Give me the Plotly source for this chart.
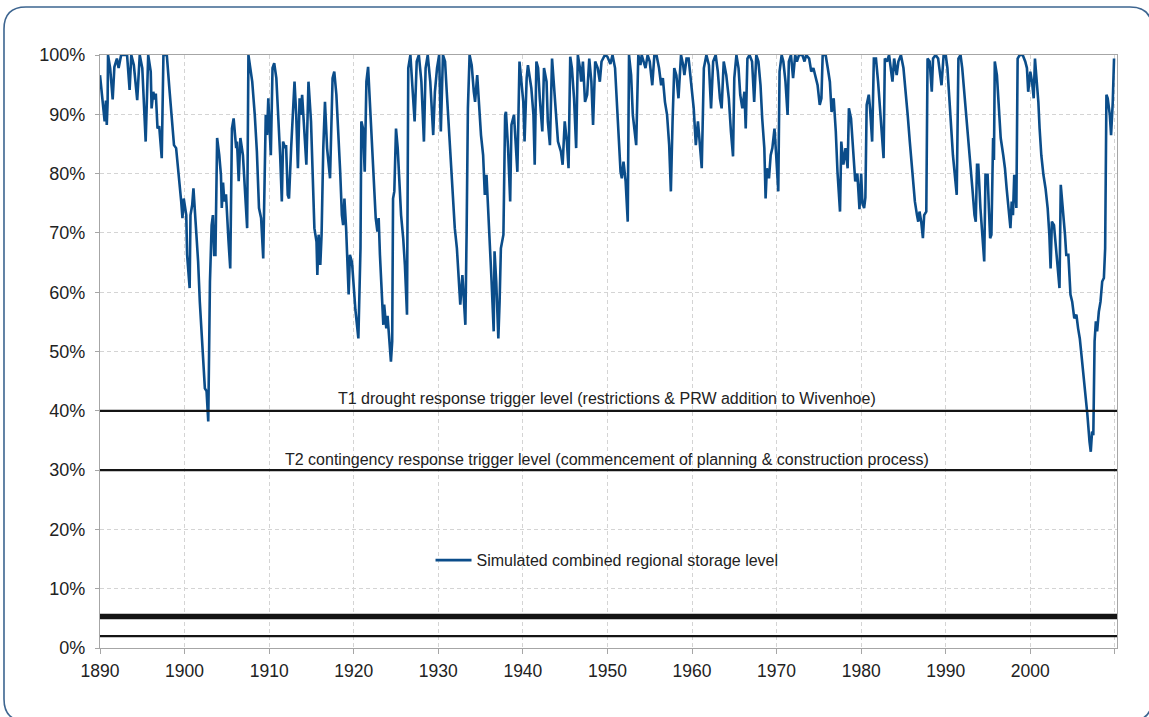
import plotly.graph_objects as go

# ---------------- data ----------------
year = [
    1890.0, 1890.2, 1890.4, 1890.55, 1890.7, 1890.8, 1890.9, 1890.95, 1891.2, 1891.45, 1891.5, 1891.7,
    1892.0, 1892.2, 1892.5, 1892.9, 1893.2, 1893.5, 1893.7, 1894.0, 1894.4, 1894.7, 1895.0, 1895.4,
    1895.7, 1896.0, 1896.1, 1896.3, 1896.5, 1896.6, 1896.8, 1897.0, 1897.3, 1897.5, 1897.9, 1898.2,
    1898.5, 1898.75, 1899.0, 1899.2, 1899.4, 1899.6, 1899.75, 1899.9, 1900.2, 1900.3, 1900.6, 1900.7,
    1900.9, 1901.05, 1901.3, 1901.6, 1901.8, 1902.1, 1902.4, 1902.6, 1902.8, 1903.0, 1903.2, 1903.35,
    1903.5, 1903.65, 1903.85, 1904.1, 1904.3, 1904.4, 1904.55, 1904.7, 1904.9, 1905.2, 1905.4, 1905.6,
    1905.8, 1906.1, 1906.2, 1906.4, 1906.6, 1906.9, 1907.15, 1907.4, 1907.55, 1907.8, 1908.0, 1908.3,
    1908.55, 1908.8, 1909.05, 1909.3, 1909.45, 1909.6, 1909.75, 1909.9, 1910.05, 1910.2, 1910.4, 1910.6,
    1910.85, 1911.1, 1911.3, 1911.5, 1911.65, 1911.9, 1912.0, 1912.2, 1912.35, 1912.6, 1912.8, 1913.0,
    1913.2, 1913.4, 1913.6, 1913.75, 1913.9, 1914.2, 1914.4, 1914.65, 1914.95, 1915.35, 1915.6, 1915.7,
    1915.85, 1916.05, 1916.2, 1916.4, 1916.6, 1916.85, 1917.0, 1917.2, 1917.5, 1917.7, 1917.95, 1918.2,
    1918.4, 1918.6, 1918.75, 1918.9, 1919.1, 1919.4, 1919.55, 1919.8, 1920.0,
    1920.2, 1920.55, 1920.8, 1920.9, 1921.1, 1921.3, 1921.5, 1921.7, 1921.9, 1922.1, 1922.4, 1922.6,
    1922.8, 1922.95, 1923.1, 1923.3, 1923.5, 1923.6, 1923.85, 1924.0, 1924.2, 1924.4, 1924.55, 1924.65,
    1924.8, 1925.0, 1925.2, 1925.4, 1925.6, 1925.85, 1926.05, 1926.3, 1926.45, 1926.7, 1926.9, 1927.2,
    1927.45, 1927.7, 1928.0, 1928.3, 1928.5, 1928.75, 1929.05, 1929.2, 1929.4, 1929.6, 1929.85, 1930.1,
    1930.3, 1930.55, 1930.8, 1931.0, 1931.25, 1931.5, 1931.7, 1931.95, 1932.2, 1932.35, 1932.6, 1932.85,
    1933.0, 1933.2, 1933.35, 1933.5, 1933.7, 1933.95, 1934.2, 1934.35, 1934.6, 1934.8, 1935.05, 1935.3,
    1935.5, 1935.7, 1935.9, 1936.15, 1936.3, 1936.55, 1936.65, 1936.85, 1937.1, 1937.25, 1937.4, 1937.7,
    1937.9, 1938.0, 1938.25, 1938.5, 1938.65, 1938.95, 1939.2, 1939.35, 1939.6, 1939.85, 1940.05, 1940.2,
    1940.45, 1940.6, 1940.85, 1941.0, 1941.25, 1941.4, 1941.6, 1941.8, 1942.0, 1942.3, 1942.5, 1942.8,
    1942.95, 1943.2, 1943.45, 1943.7, 1943.95, 1944.15, 1944.5, 1944.7, 1944.95, 1945.2, 1945.4, 1945.6,
    1945.8, 1946.05, 1946.3, 1946.5, 1946.75, 1946.9, 1947.1, 1947.35, 1947.6, 1947.85, 1948.1, 1948.3,
    1948.55, 1948.85, 1949.1, 1949.3, 1949.7, 1950.0,
    1950.35, 1950.6, 1950.9, 1951.1, 1951.4, 1951.55, 1951.7, 1951.9, 1952.15, 1952.4, 1952.55, 1952.8,
    1953.0, 1953.4, 1953.65, 1953.9, 1954.05, 1954.3, 1954.5, 1954.75, 1955.0, 1955.3, 1955.55, 1955.8,
    1956.1, 1956.35, 1956.55, 1956.8, 1957.05, 1957.3, 1957.5, 1957.7, 1957.9, 1958.15, 1958.4, 1958.7,
    1958.95, 1959.1, 1959.35, 1959.6, 1959.9, 1960.2, 1960.45, 1960.7, 1960.9, 1961.15, 1961.4, 1961.7,
    1962.0, 1962.25, 1962.5, 1962.8, 1963.05, 1963.3, 1963.5, 1963.75, 1964.05, 1964.35, 1964.6, 1964.85,
    1965.0, 1965.25, 1965.5, 1965.7, 1965.95, 1966.2, 1966.35, 1966.55, 1966.8, 1967.1, 1967.35, 1967.6,
    1967.85, 1968.1, 1968.3, 1968.55, 1968.7, 1968.85, 1969.1, 1969.3, 1969.5, 1969.75, 1969.95, 1970.2,
    1970.35, 1970.6, 1970.8, 1971.05, 1971.3, 1971.45, 1971.7, 1971.95, 1972.2, 1972.4, 1972.65, 1973.05,
    1973.3, 1973.5, 1973.85, 1974.1, 1974.35, 1974.6, 1974.85, 1975.1, 1975.3, 1975.45, 1975.8, 1976.05,
    1976.3, 1976.5, 1976.75, 1977.0, 1977.2, 1977.5, 1977.65, 1977.9, 1978.15, 1978.4, 1978.55, 1978.8,
    1979.0, 1979.3, 1979.55, 1979.8, 1980.0,
    1980.15, 1980.35, 1980.5, 1980.65, 1980.9, 1981.05, 1981.3, 1981.5, 1981.75, 1982.0, 1982.3, 1982.5,
    1982.65, 1982.8, 1983.05, 1983.3, 1983.5, 1983.7, 1983.9, 1984.2, 1984.4, 1984.7, 1985.0, 1985.25,
    1985.5, 1985.75, 1985.95, 1986.15, 1986.35, 1986.6, 1986.75, 1986.9, 1987.1, 1987.3, 1987.45, 1987.7,
    1987.85, 1988.1, 1988.35, 1988.5, 1988.8, 1989.1, 1989.3, 1989.5, 1989.75, 1990.0, 1990.2, 1990.45,
    1990.7, 1990.85, 1991.1, 1991.3, 1991.5, 1991.75, 1991.95, 1992.2, 1992.45, 1992.65, 1992.9, 1993.15,
    1993.4, 1993.55, 1993.7, 1993.85, 1994.1, 1994.3, 1994.55, 1994.7, 1994.95, 1995.1, 1995.25, 1995.4,
    1995.6, 1995.7, 1995.8, 1996.05, 1996.3, 1996.5, 1996.8, 1997.0, 1997.2, 1997.4, 1997.65, 1997.8,
    1997.95, 1998.1, 1998.35, 1998.5, 1998.75, 1999.1, 1999.4, 1999.6, 1999.75, 2000.0, 2000.2, 2000.4,
    2000.55, 2000.7, 2000.95, 2001.1, 2001.3, 2001.55, 2001.8, 2002.05, 2002.25, 2002.4, 2002.55, 2002.8,
    2003.05, 2003.3, 2003.45, 2003.6, 2003.85, 2004.1, 2004.25, 2004.5, 2004.75, 2004.95, 2005.2, 2005.45,
    2005.65, 2005.85, 2006.05, 2006.3, 2006.55, 2006.75, 2007.0, 2007.15, 2007.3, 2007.45, 2007.6, 2007.75,
    2007.9, 2008.1, 2008.3, 2008.5, 2008.7, 2008.85, 2009.0, 2009.15, 2009.4, 2009.55, 2009.75, 2009.9,
]

storage_pct = [
    96.6, 93.8, 92.0, 88.8, 92.3, 88.2, 92.0, 100, 97.8, 93.0, 92.5, 98.0,
    99.4, 97.8, 100, 100, 100, 94.1, 100, 98.3, 92.4, 100, 97.8, 85.4,
    100, 97.2, 91.0, 93.8, 92.5, 93.5, 87.6, 88.0, 82.6, 100, 100, 94.4,
    88.8, 84.8, 84.3, 81.5, 78.1, 75.3, 72.5, 75.8, 73.0, 66.3, 60.7, 73.0,
    74.7, 77.5, 71.9, 65.2, 58.4, 51.7, 43.8, 43.3, 38.2, 61.8, 71.3, 73.0,
    66.3, 66.3, 86.0, 83.1, 79.8, 74.2, 78.5, 75.3, 76.5, 68.5, 64.0, 87.6,
    89.3, 84.3, 85.4, 78.7, 86.0, 83.1, 75.8, 70.8, 100, 97.8, 95.5, 89.9,
    83.7, 74.2, 72.5, 65.7, 82.0, 89.9, 86.5, 92.7, 87.6, 83.1, 97.8, 98.6,
    96.1, 89.3, 83.1, 75.3, 85.4, 84.3, 84.8, 76.4, 75.8, 84.3, 91.0, 95.5,
    89.9, 80.9, 92.7, 89.9, 93.3, 86.5, 81.5, 95.5, 88.8, 70.8, 68.5, 62.9,
    69.7, 64.6, 69.7, 84.3, 92.1, 84.3, 81.5, 79.2, 96.1, 97.2, 93.3, 86.5,
    80.3, 73.0, 71.3, 75.8, 70.8, 59.6, 66.3, 65.0, 60.0,
    57.0, 52.2, 67.4, 88.8, 87.6, 80.3, 95.5, 98.0, 92.7, 86.0, 79.8, 72.5,
    70.2, 72.5, 66.3, 60.7, 54.5, 57.9, 53.9, 56.0, 52.2, 48.3, 51.7, 75.8,
    77.0, 87.6, 84.3, 78.7, 73.0, 69.1, 64.6, 56.2, 97.8, 100, 95.5, 88.8,
    98.9, 100, 95.5, 85.4, 97.8, 100, 95.5, 91.0, 86.5, 93.8, 97.8, 100,
    87.1, 100, 98.9, 93.8, 87.6, 82.0, 76.4, 70.8, 67.4, 62.9, 57.9, 62.9,
    58.4, 54.5, 70.2, 91.0, 100, 98.3, 93.8, 92.1, 96.6, 92.1, 86.5, 83.1,
    76.4, 79.8, 74.2, 67.4, 61.8, 53.4, 66.9, 61.8, 52.2, 58.4, 67.4, 69.7,
    89.9, 90.4, 84.3, 75.3, 88.2, 89.9, 84.3, 80.3, 98.9, 94.9, 92.1, 85.4,
    96.1, 98.3, 96.1, 94.4, 89.9, 81.5, 98.9, 97.8, 92.7, 87.1, 97.8, 95.5,
    88.8, 84.8, 99.4, 94.4, 89.9, 85.4, 83.7, 81.5, 88.8, 85.4, 80.9, 99.7,
    97.8, 92.7, 84.3, 100, 97.8, 95.5, 98.9, 92.1, 93.3, 99.4, 95.5, 88.2,
    98.9, 97.8, 95.5, 98.9, 100, 99.7,
    98.5, 100, 97.8, 92.7, 85.4, 80.3, 79.2, 82.0, 78.7, 71.9, 100, 96.6,
    89.9, 84.8, 100, 98.3, 100, 98.9, 97.8, 100, 98.9, 94.9, 100, 100,
    97.8, 94.9, 96.1, 92.1, 89.9, 84.8, 77.0, 88.8, 97.8, 96.6, 92.7, 100,
    98.3, 96.6, 99.4, 99.4, 95.5, 91.0, 84.8, 88.8, 85.4, 80.9, 97.8, 100,
    98.3, 91.0, 98.9, 100, 97.2, 92.7, 91.0, 98.9, 96.6, 92.7, 87.1, 82.9,
    96.1, 100, 97.8, 93.3, 91.0, 93.8, 87.6, 99.4, 100, 98.9, 92.1, 100,
    98.9, 94.9, 89.3, 84.3, 75.8, 80.9, 79.2, 83.1, 84.3, 87.6, 83.1, 77.0,
    97.2, 100, 98.9, 95.5, 89.9, 98.9, 100, 96.1, 100, 98.9, 100, 100,
    98.9, 100, 99.4, 97.2, 97.8, 96.1, 94.9, 91.6, 92.7, 100, 100, 97.8,
    95.5, 90.4, 92.7, 87.1, 80.3, 73.6, 85.4, 81.5, 84.3, 80.9, 91.0, 89.3,
    84.3, 78.7, 80.0, 74.0, 80.0,
    75.0, 74.2, 76.0, 91.6, 93.3, 91.0, 85.4, 99.4, 99.4, 95.5, 89.9, 86.5,
    82.6, 99.4, 98.9, 100, 97.8, 95.5, 99.4, 96.6, 98.9, 100, 97.8, 94.4,
    89.9, 85.4, 81.5, 78.1, 75.3, 73.0, 71.9, 73.6, 71.9, 69.1, 73.0, 73.6,
    99.4, 98.9, 93.8, 99.4, 100, 99.4, 96.6, 94.9, 100, 100, 97.8, 91.0,
    86.5, 83.1, 79.8, 76.4, 99.4, 100, 97.8, 93.8, 89.9, 85.4, 81.5, 77.5,
    73.0, 71.9, 81.5, 81.5, 74.2, 69.7, 65.2, 79.8, 79.8, 74.2, 69.1, 69.7,
    86.0, 82.3, 98.9, 96.6, 89.9, 86.0, 83.1, 80.9, 77.5, 74.2, 70.8, 75.3,
    73.0, 79.8, 74.2, 99.4, 100, 100, 98.9, 97.8, 93.8, 97.2, 95.5, 92.7,
    99.4, 96.6, 92.1, 87.6, 83.1, 79.8, 77.5, 74.2, 69.7, 64.0, 71.9, 71.3,
    67.4, 62.9, 60.7, 78.1, 74.2, 69.7, 66.3, 66.3, 59.6, 58.4, 55.6, 56.2,
    53.9, 52.2, 49.4, 46.1, 42.7, 39.3, 34.8, 33.1, 36.5, 35.9, 51.7, 55.1,
    53.4, 56.7, 58.4, 61.8, 62.4, 67.4, 93.3, 92.7, 89.9, 86.5, 92.1, 99.4,
]

series_name = "Simulated combined regional storage level"

# horizontal reference levels (%)
level_values = [40, 30, 5.3, 2.0]
level_widths = [2.2, 2.2, 5.5, 2.2]
level_labels = [
    "T1 drought response trigger level (restrictions & PRW addition to Wivenhoe)",
    "T2 contingency response trigger level (commencement of planning & construction process)",
]

x_tick_years = list(range(1890, 2011, 10))
x_tick_text = [str(y) for y in x_tick_years[:-1]] + [""]
y_tick_values = list(range(0, 101, 10))
y_tick_text = [f"{v}%" for v in y_tick_values]

# ---------------- figure ----------------
W, H = 1149, 717
ML, MR, MT, MB = 100, 32, 55, 69
PW, PH = W - ML - MR, H - MT - MB

FONT = "Liberation Sans, Arial, sans-serif"
TXT = "#222222"

fig = go.Figure()
fig.add_trace(go.Scatter(
    x=year, y=storage_pct, mode="lines", name=series_name,
    line=dict(color="#0b4d8a", width=2.6),
))

shapes = []
for v, w in zip(level_values, level_widths):
    shapes.append(dict(type="line", xref="paper", yref="y", x0=0, x1=1, y0=v, y1=v,
                       line=dict(color="#141414", width=w), layer="above"))


def px(xp, yp):
    return (xp - ML) / PW, (H - MB - yp) / PH


# rounded frame around the chart
L, T, R, B, r = 4, 7, 1152, 721, 22
pts = [("M", L, T + r), ("Q", L, T, L + r, T), ("L", R - r, T), ("Q", R, T, R, T + r),
       ("L", R, B - r), ("Q", R, B, R - r, B), ("L", L + r, B), ("Q", L, B, L, B - r)]
path = ""
for p in pts:
    cmd = p[0]
    coords = p[1:]
    seg = cmd
    for i in range(0, len(coords), 2):
        a, b = px(coords[i], coords[i + 1])
        seg += f" {a:.5f},{b:.5f}"
    path += seg + " "
path += "Z"
shapes.append(dict(type="path", xref="paper", yref="paper", path=path,
                   line=dict(color="#3d6590", width=1.6), layer="below"))

annotations = [
    dict(x=0.4985, y=42.1, xref="paper", yref="y", text=level_labels[0], showarrow=False,
         font=dict(size=16, color=TXT, family=FONT), xanchor="center", yanchor="middle"),
    dict(x=0.4985, y=31.8, xref="paper", yref="y", text=level_labels[1], showarrow=False,
         font=dict(size=16, color=TXT, family=FONT), xanchor="center", yanchor="middle"),
]

fig.update_layout(
    width=W, height=H,
    margin=dict(l=ML, r=MR, t=MT, b=MB, autoexpand=False),
    paper_bgcolor="white", plot_bgcolor="white",
    font=dict(family=FONT, color=TXT),
    shapes=shapes, annotations=annotations,
    showlegend=True,
    legend=dict(x=0.325, y=0.148, xanchor="left", yanchor="middle", itemwidth=36,
                bgcolor="rgba(0,0,0,0)", font=dict(size=16, color=TXT, family=FONT)),
    xaxis=dict(range=[1890, 2010.25], tickvals=x_tick_years, ticktext=x_tick_text,
               showgrid=True, gridcolor="#d4d4d4", griddash="4px,3px", gridwidth=1,
               showline=True, linecolor="#a6a6a6", linewidth=1.3, mirror=True,
               ticks="outside", ticklen=5, tickcolor="#a6a6a6", ticklabelstandoff=2,
               tickfont=dict(size=17.5, color=TXT, family=FONT), zeroline=False),
    yaxis=dict(range=[0, 100], tickvals=y_tick_values, ticktext=y_tick_text,
               showgrid=True, gridcolor="#d4d4d4", griddash="4px,3px", gridwidth=1,
               showline=True, linecolor="#a6a6a6", linewidth=1.3, mirror=True,
               ticks="outside", ticklen=4, tickcolor="#a6a6a6", ticklabelstandoff=6,
               tickfont=dict(size=18, color=TXT, family=FONT), zeroline=False),
)

fig.write_html("out.html", config={"displayModeBar": False},
               post_script="document.body.style.margin='0';document.body.style.overflow='hidden';")
